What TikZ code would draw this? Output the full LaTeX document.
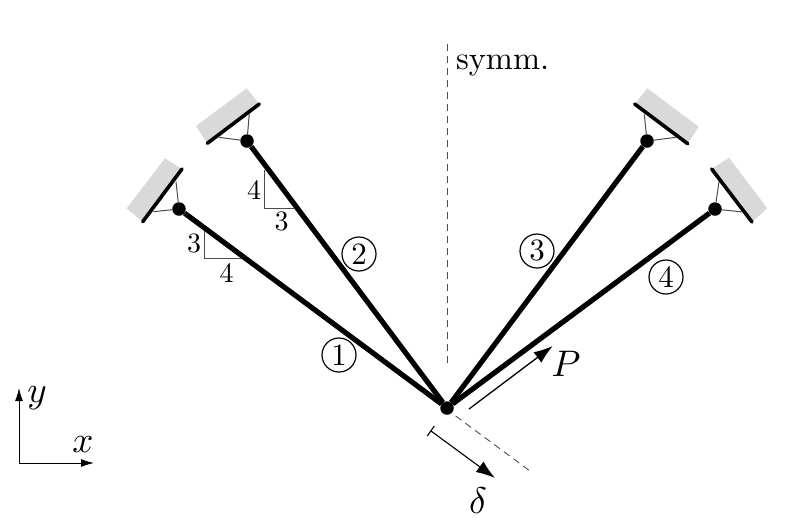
\documentclass[tikz,border=0pt]{standalone}
\usepackage{graphicx}
\usetikzlibrary{arrows.meta}
\newcommand{\txt}[2][3]{\scalebox{#1}{#2}}
\tikzset{
  x=1pt,y=-1pt,
  bar/.style={line width=5.2pt,black},
  wall/.style={line width=3.6pt,black,line cap=round},
  block/.style={fill=black!15,draw=none},
  thin line/.style={line width=1pt,draw=black!70},
  pin/.style={circle,fill=black,inner sep=0pt,minimum size=13.5pt},
  memb/.style={circle,draw=black,line width=1.2pt,inner sep=0pt,minimum size=34pt},
  dash line/.style={line width=0.9pt,draw=black!70,dash pattern=on 7pt off 5pt},
  arr/.style={line width=1.3pt,-{Latex[length=19pt,width=13pt]}},
  lab/.style={inner sep=0pt,outer sep=0pt}
}
\begin{document}
\begin{tikzpicture}
\useasboundingbox (0,0) rectangle (800,523);
% grey blocks
\fill[block] (142.7,221.7) -- (126.7,208.3) -- (165,158.3) -- (182,169) -- cycle;
\fill[block] (207.3,143.3) -- (196,126) -- (246.7,88.3) -- (259.3,104) -- cycle;
\fill[block] (634.7,104) -- (647.3,88.3) -- (698.7,126.7) -- (687.7,143.7) -- cycle;
\fill[block] (711.7,169) -- (729,157.7) -- (767.3,208.3) -- (752,222) -- cycle;
% named points
\node[pin] (p1) at (179,209) {};
\node[pin] (p2) at (247,141) {};
\node[pin] (p3) at (647,141) {};
\node[pin] (p4) at (715,209) {};
\node[pin] (c) at (447,408) {};
% struts to wall
\coordinate (w1a) at (176,181.7); \coordinate (w1b) at (153.3,211.7);
\coordinate (w2a) at (249.3,113.3); \coordinate (w2b) at (219,137.3);
\coordinate (w3a) at (644.3,114.3); \coordinate (w3b) at (676,137.3);
\coordinate (w4a) at (719,181.7); \coordinate (w4b) at (742.7,212);
\draw[thin line] (w1a) -- (p1);
\draw[thin line] (w1b) -- (p1);
\draw[thin line] (w2a) -- (p2);
\draw[thin line] (w2b) -- (p2);
\draw[thin line] (w3a) -- (p3);
\draw[thin line] (w3b) -- (p3);
\draw[thin line] (w4a) -- (p4);
\draw[thin line] (w4b) -- (p4);
% walls
\draw[wall] (142.7,221.7) -- (182,169);
\draw[wall] (207.3,143.3) -- (259.3,104);
\draw[wall] (634.7,104) -- (687.7,143.7);
\draw[wall] (711.7,169) -- (752,222);
% slope triangles
\draw[thin line] (204,230) -- (204,258.3) -- (241.7,258.3);
\draw[thin line] (264.7,170) -- (264.7,208.3) -- (294,208.3);
\node[lab] (s1a) at (194,243) {\txt[2.8]{3}};
\node[lab] (s1b) at (226.7,272.7) {\txt[2.8]{4}};
\node[lab] (s2a) at (254,190) {\txt[2.8]{4}};
\node[lab] (s2b) at (281.7,221.7) {\txt[2.8]{3}};
% bars
\draw[bar] (c) -- (p1);
\draw[bar] (c) -- (p2);
\draw[bar] (c) -- (p3);
\draw[bar] (c) -- (p4);
% symmetry lines
\coordinate (st) at (447,44); \coordinate (sb) at (447,367);
\coordinate (dt) at (455.7,416); \coordinate (db) at (530,471);
\draw[dash line] (st) -- (sb);
\draw[dash line] (dt) -- (db);
\node[lab,anchor=base west] (sym) at (456,69) {\txt[3.25]{symm.}};
% members
\node[memb] (m1) at (339,355) {\txt[3.1]{1}};
\node[memb] (m2) at (359,254) {\txt[3.1]{2}};
\node[memb] (m3) at (537,251) {\txt[3.1]{3}};
\node[memb] (m4) at (666,277) {\txt[3.1]{4}};
% force
\coordinate (pa) at (469,409); \coordinate (pb) at (552.7,346);
\draw[arr] (pa) -- (pb);
\node[lab] (P) at (566,364) {\txt[3.7]{$P$}};
% displacement
\coordinate (da) at (427.3,436); \coordinate (db2) at (434.3,426);
\coordinate (dm) at (431,431); \coordinate (de) at (495,478);
\draw[line width=1.1pt] (da) -- (db2);
\draw[arr,line width=1.1pt] (dm) -- (de);
\node[lab] (d) at (478,501) {\txt[3.7]{$\delta$}};
% axes
\coordinate (o) at (19,463); \coordinate (ax) at (94,463); \coordinate (ay) at (19,388);
\draw[line width=1pt,-{Latex[length=13pt,width=8pt]}] (o) -- (ax);
\draw[line width=1pt,-{Latex[length=13pt,width=8pt]}] (o) -- (ay);
\node[lab] (xl) at (83,445) {\txt[3.7]{$x$}};
\node[lab] (yl) at (37,398) {\txt[3.7]{$y$}};
\end{tikzpicture}
\end{document}
